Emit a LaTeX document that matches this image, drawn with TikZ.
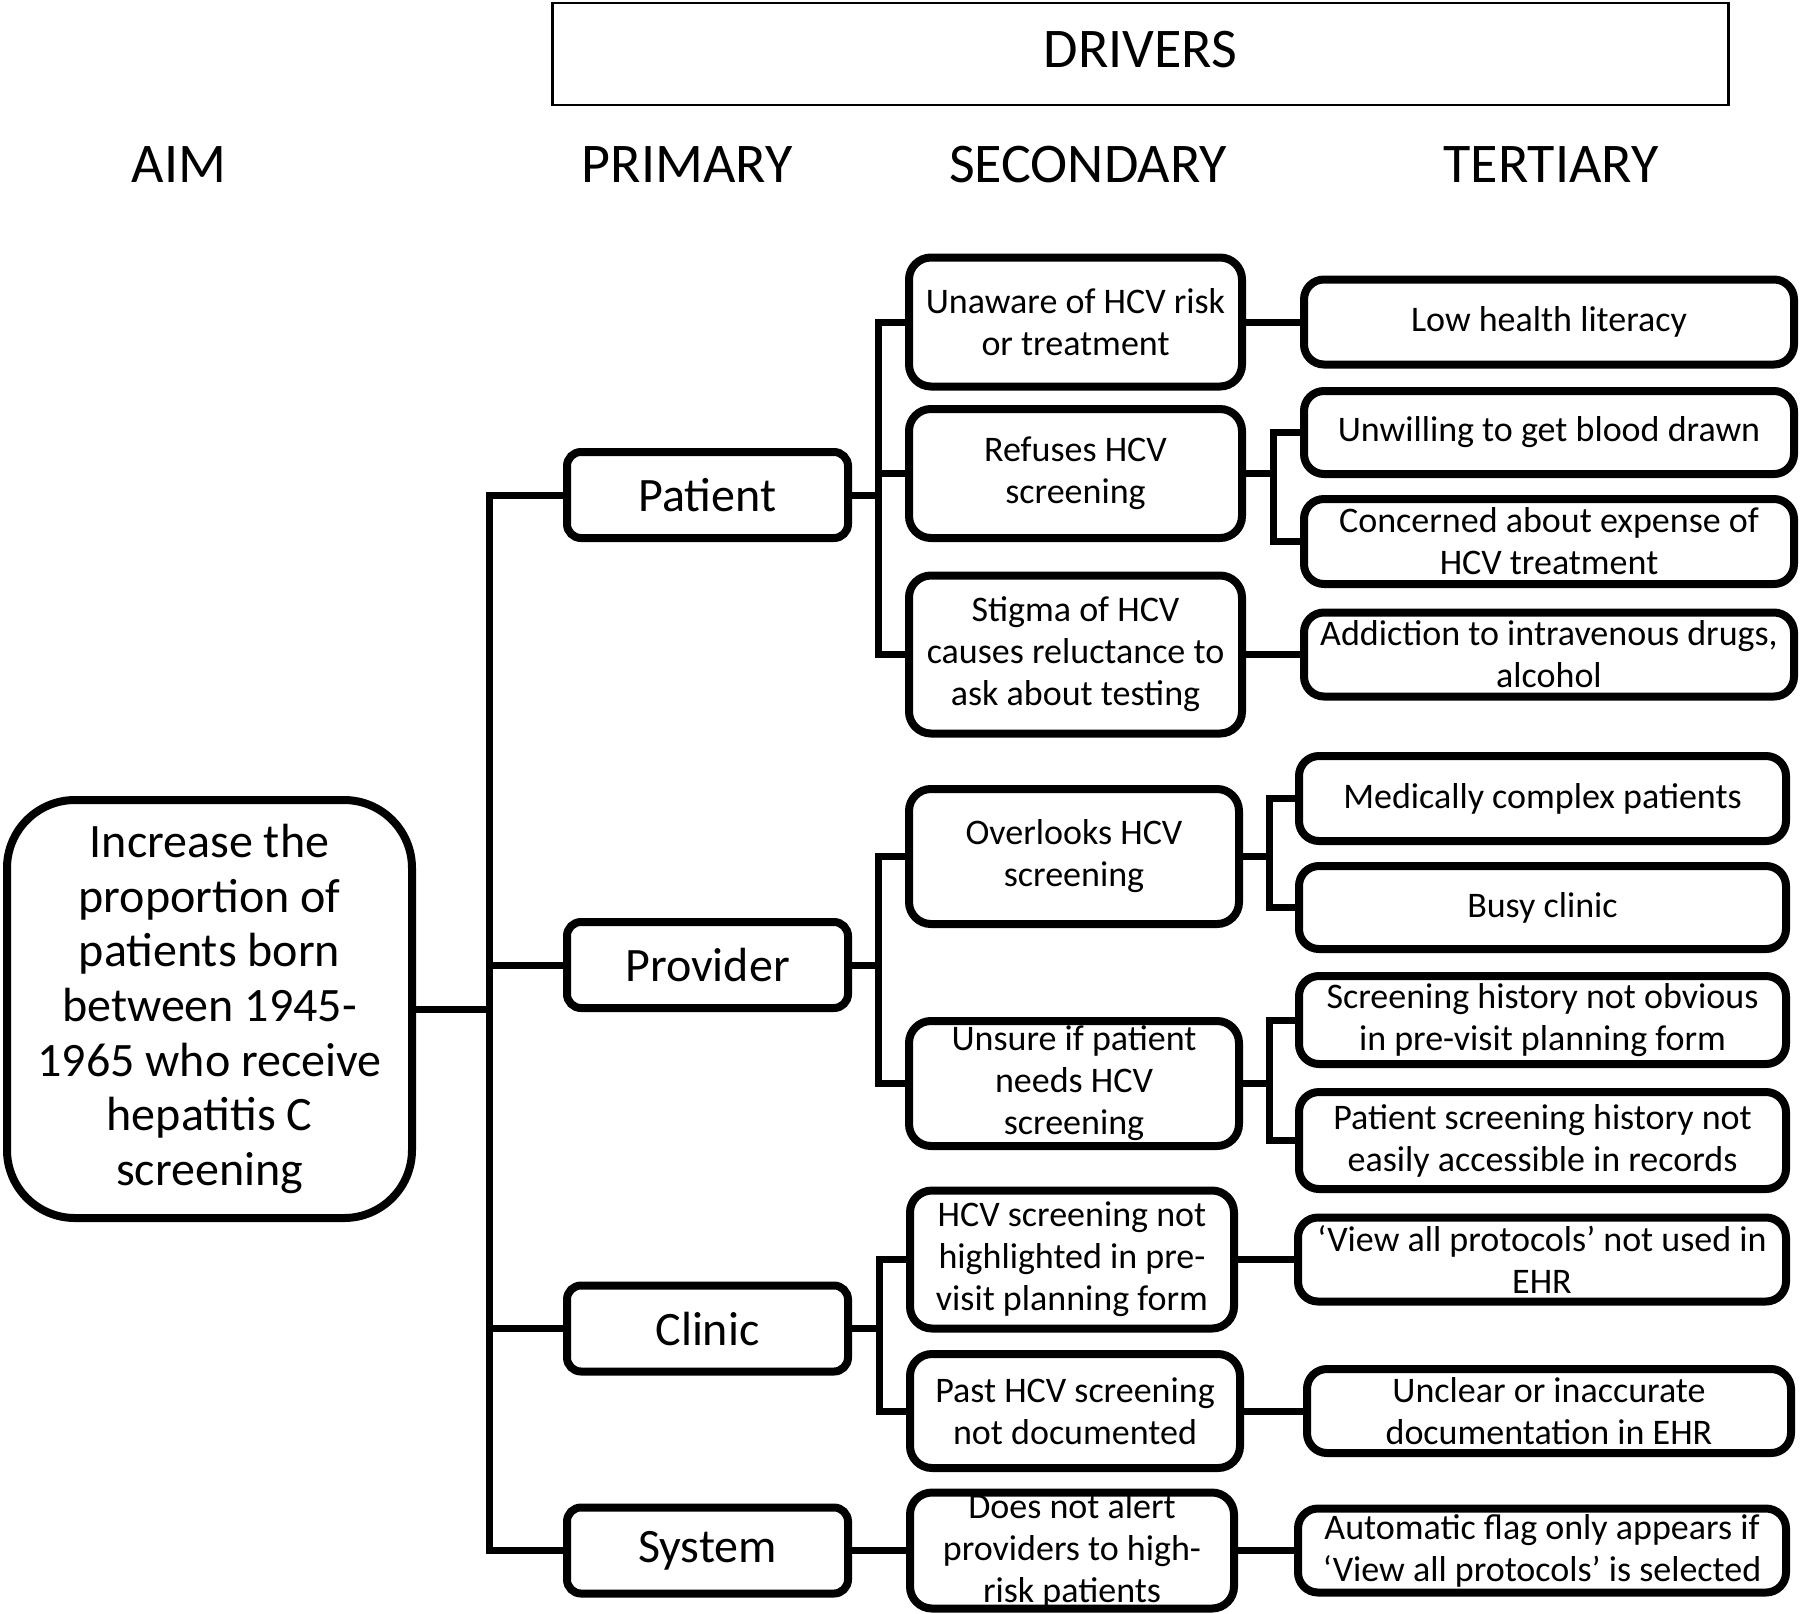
\documentclass[tikz,border=0pt]{standalone}
\usepackage{fontspec}
\setmainfont{Carlito}
\usetikzlibrary{calc}

\begin{document}
\begin{tikzpicture}[
                x=0.5pt, y=-0.5pt,
                header/.style={font=\fontsize{28pt}{32pt}\selectfont},
                drivers/.style={draw, line width=1.2pt, minimum width=588pt, minimum height=51pt, text depth=4.5pt, font=\fontsize{28pt}{32pt}\selectfont},
                aim/.style={draw, line width=4pt, rounded corners=34pt, minimum width=202.5pt, minimum height=209pt, align=center, inner sep=0pt, font=\fontsize{24pt}{27.3pt}\selectfont},
                primary/.style={draw, line width=4pt, rounded corners=7pt, minimum width=140.5pt, minimum height=43pt, inner sep=0pt, font=\fontsize{24pt}{27.3pt}\selectfont},
                secondary/.style={draw, line width=4pt, rounded corners=11pt, minimum width=166.5pt, align=center, inner xsep=0pt, inner ysep=-6pt, font=\fontsize{18pt}{21pt}\selectfont},
                tertiary/.style={draw, line width=4pt, rounded corners=10pt, minimum width=245pt, align=center, inner xsep=0pt, inner ysep=-6pt, font=\fontsize{18pt}{21pt}\selectfont},
                link/.style={line width=3.5pt}
            ]

            \useasboundingbox (0,0) rectangle (1800,1613);

            \node[drivers] (drivers) at (1140.5,54) {DRIVERS};

            \node[header] (haim) at (179,165) {AIM};
            \node[header] (hprimary) at (687,165) {PRIMARY};
            \node[header] (hsecondary) at (1088,165) {SECONDARY};
            \node[header] (htertiary) at (1551,165) {TERTIARY};

            % aim
            \node[aim] (aim) at (209.5,1009) {Increase the\\proportion of\\patients born\\between 1945-\\1965 who receive\\hepatitis C\\screening};

            % primary drivers
            \node[primary] (patient) at (707.5,495) {Patient};

            \node[primary] (provider) at (707.5,965) {Provider};

            \node[primary] (clinic) at (707.5,1328.5) {Clinic};

            \node[primary] (system) at (707.5,1550.5) {System};

            % secondary drivers
            \node[secondary, minimum height=64.5pt] (unaware) at (1075.5,322) {Unaware of HCV risk\\or treatment};

            \node[secondary, minimum height=64.5pt] (refuses) at (1075.5,473.5) {Refuses HCV\\screening};

            \node[secondary, minimum height=79pt] (stigma) at (1075.5,654.5) {Stigma of HCV\\causes reluctance to\\ask about testing};

            \node[secondary, minimum width=165pt, minimum height=67.5pt] (overlooks) at (1074,856.5) {Overlooks HCV\\screening};

            \node[secondary, minimum width=165pt, minimum height=62.5pt] (unsure) at (1074,1083.5) {Unsure if patient\\needs HCV\\screening};

            \node[secondary, minimum width=162pt, minimum height=69pt] (highlight) at (1072,1259.5) {HCV screening not\\highlighted in pre-\\visit planning form};

            \node[secondary, minimum width=165pt, minimum height=57pt] (past) at (1075,1411) {Past HCV screening\\not documented};

            \node[secondary, minimum width=162pt, minimum height=58pt] (alert) at (1072,1550.5) {Does not alert\\providers to high-\\risk patients};

            % tertiary drivers
            \node[tertiary, minimum height=42.5pt] (literacy) at (1549,322) {Low health literacy};

            \node[tertiary, minimum height=41.5pt] (blood) at (1549,432.5) {Unwilling to get blood drawn};

            \node[tertiary, minimum height=42.5pt] (expense) at (1549,541.5) {Concerned about expense of\\HCV treatment};

            \node[tertiary, minimum height=42pt] (addiction) at (1549,654.5) {Addiction to intravenous drugs,\\alcohol};

            \node[tertiary, minimum width=243.5pt, minimum height=42.5pt] (complex) at (1542.5,798.5) {Medically complex patients};

            \node[tertiary, minimum width=243.5pt, minimum height=41.5pt] (busy) at (1542.5,907.5) {Busy clinic};

            \node[tertiary, minimum width=243.5pt, minimum height=44pt] (obvious) at (1542.5,1020) {Screening history not obvious\\in pre-visit planning form};

            \node[tertiary, minimum width=243.5pt, minimum height=48.5pt] (records) at (1542.5,1140.5) {Patient screening history not\\easily accessible in records};

            \node[tertiary, minimum width=244pt, minimum height=42pt] (viewall) at (1542,1259.5) {‘View all protocols’ not used in\\EHR};

            \node[tertiary, minimum width=242pt, minimum height=42pt] (unclear) at (1549,1411) {Unclear or inaccurate\\documentation in EHR};

            \node[tertiary, minimum width=244pt, minimum height=42pt] (flag) at (1542,1550.5) {Automatic flag only appears if\\‘View all protocols’ is selected};

            % aim to primary
            \coordinate (aimjoin) at ($(aim.east)!.5!(aim.east-|patient.west)$);
            \draw[link] (aim.east) -- (aimjoin);
            \draw[link] (patient.west) -| (aimjoin);
            \draw[link] (provider.west) -| (aimjoin);
            \draw[link] (clinic.west) -| (aimjoin);
            \draw[link] (system.west) -| (aimjoin);

            % primary to secondary
            \coordinate (patjoin) at ($(patient.east)!.5!(patient.east-|unaware.west)$);
            \draw[link] (patient.east) -- (patjoin);
            \draw[link] (unaware.west) -| (patjoin);
            \draw[link] (refuses.west) -| (patjoin);
            \draw[link] (stigma.west) -| (patjoin);

            \coordinate (provjoin) at ($(provider.east)!.5!(provider.east-|overlooks.west)$);
            \draw[link] (provider.east) -- (provjoin);
            \draw[link] (overlooks.west) -| (provjoin);
            \draw[link] (unsure.west) -| (provjoin);

            \coordinate (clinjoin) at ($(clinic.east)!.5!(clinic.east-|highlight.west)$);
            \draw[link] (clinic.east) -- (clinjoin);
            \draw[link] (highlight.west) -| (clinjoin);
            \draw[link] (past.west) -| (clinjoin);

            \draw[link] (system) -- (alert);

            % secondary to tertiary
            \draw[link] (unaware) -- (literacy);

            \coordinate (refjoin) at ($(refuses.east)!.5!(refuses.east-|blood.west)$);
            \draw[link] (refuses.east) -- (refjoin);
            \draw[link] (blood.west) -| (refjoin);
            \draw[link] (expense.west) -| (refjoin);

            \draw[link] (stigma) -- (addiction);

            \coordinate (overjoin) at ($(overlooks.east)!.5!(overlooks.east-|complex.west)$);
            \draw[link] (overlooks.east) -- (overjoin);
            \draw[link] (complex.west) -| (overjoin);
            \draw[link] (busy.west) -| (overjoin);

            \coordinate (unsjoin) at ($(unsure.east)!.5!(unsure.east-|obvious.west)$);
            \draw[link] (unsure.east) -- (unsjoin);
            \draw[link] (obvious.west) -| (unsjoin);
            \draw[link] (records.west) -| (unsjoin);

            \draw[link] (highlight) -- (viewall);
            \draw[link] (past) -- (unclear);
            \draw[link] (alert) -- (flag);

        \end{tikzpicture}
\end{document}
